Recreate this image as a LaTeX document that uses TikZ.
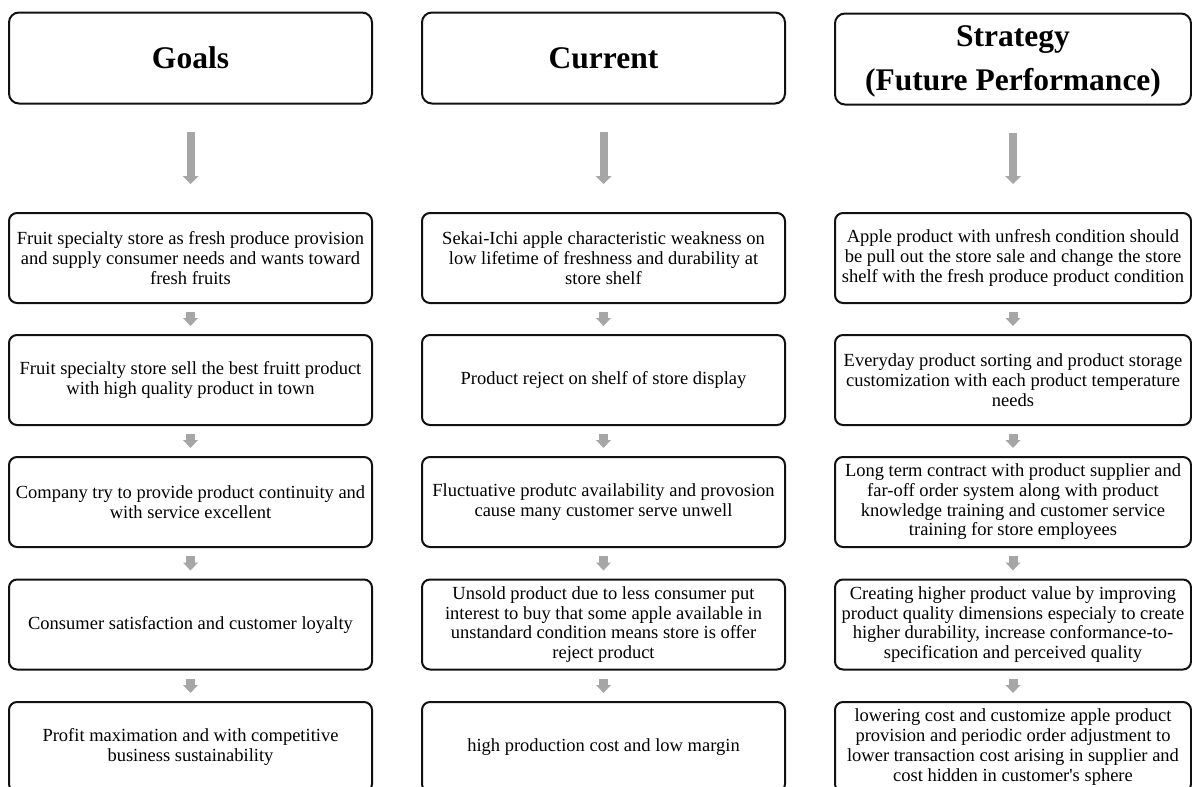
\documentclass[tikz,border=0pt]{standalone}
\usepackage{fontspec}
\setmainfont{Liberation Serif}
\newfontfamily\aposfont{Liberation Serif}[Ligatures=Common]
\usetikzlibrary{arrows.meta}
\definecolor{arrowgray}{HTML}{A6A6A6}
\definecolor{boxline}{HTML}{111111}
\begin{document}
\begin{tikzpicture}[x=1pt,y=-1pt,
  box/.style={draw=boxline, line width=2pt, rounded corners=8pt, minimum width=363pt,
    minimum height=90pt, inner sep=0pt, align=center, font=\fontsize{18.5}{19.7}\selectfont},
  narrowbox/.style={box, minimum width=356pt},
  head/.style={box, minimum height=91pt, rounded corners=10pt, font=\fontsize{31.5}{44}\selectfont\bfseries},
  bigarrow/.style={draw=arrowgray, line width=8pt, -{Triangle[width=16pt,length=8pt,line width=0pt]}},
  smallarrow/.style={draw=arrowgray, line width=9pt, -{Triangle[width=15pt,length=8pt,line width=0pt]}},
]
\useasboundingbox (0,0) rectangle (1192,787);
\clip (0,0) rectangle (1192,787);

% headers
\node[head] (h1) at (190.5,58) {Goals};
\node[head] (h2) at (603.5,58) {Current};
\node[head, minimum width=356pt] (h3) at (1013,59) {\rule{0pt}{26pt}Strategy\\(Future Performance)};

% Goals column
\node[box] (g1) at (190.5,258) {Fruit specialty store as fresh produce provision\\and supply consumer needs and wants toward\\fresh fruits};
\node[box] (g2) at (190.5,380) {Fruit specialty store sell the best fruitt product\\with high quality product in town};
\node[box] (g3) at (190.5,502) {Company try to provide product continuity and\\with service excellent};
\node[box] (g4) at (190.5,624.5) {Consumer satisfaction and customer loyalty};
\node[box] (g5) at (190.5,747) {Profit maximation and with competitive\\business sustainability};

% Current column
\node[box] (c1) at (603.5,258) {Sekai-Ichi apple characteristic weakness on\\low lifetime of freshness and durability at\\store shelf};
\node[box] (c2) at (603.5,380) {Product reject on shelf of store display};
\node[box] (c3) at (603.5,502) {Fluctuative produtc availability and provosion\\cause many customer serve unwell};
\node[box] (c4) at (603.5,624.5) {Unsold product due to less consumer put\\interest to buy that some apple available in\\unstandard condition means store is offer\\reject product};
\node[box] (c5) at (603.5,747) {high production cost and low margin};

% Strategy column
\node[narrowbox] (s1) at (1013,258) {Apple product with unfresh condition should\\be pull out the store sale and change the store\\shelf with the fresh produce product condition};
\node[narrowbox] (s2) at (1013,380) {Everyday product sorting and product storage\\customization with each product temperature\\needs};
\node[narrowbox] (s3) at (1013,502) {Long term contract with product supplier and\\far-off order system along with product\\knowledge training and customer service\\training for store employees};
\node[narrowbox] (s4) at (1013,624.5) {Creating higher product value by improving\\product quality dimensions especialy to create\\higher durability, increase conformance-to-\\specification and perceived quality};
\node[narrowbox] (s5) at (1013,747) {lowering cost and customize apple product\\provision and periodic order adjustment to\\lower transaction cost arising in supplier and\\cost hidden in customer{\aposfont'}s sphere};

% big arrows
\foreach \h/\c in {h1/g1, h2/c1, h3/s1}{
  \draw[bigarrow] ([yshift=-27pt]\h.south) -- ([yshift=28pt]\c.north);
}
% small arrows
\foreach \a/\b in {g1/g2, g2/g3, g3/g4, g4/g5, c1/c2, c2/c3, c3/c4, c4/c5, s1/s2, s2/s3, s3/s4, s4/s5}{
  \draw[smallarrow] ([yshift=-8pt]\a.south) -- ([yshift=8pt]\b.north);
}
\end{tikzpicture}
\end{document}
